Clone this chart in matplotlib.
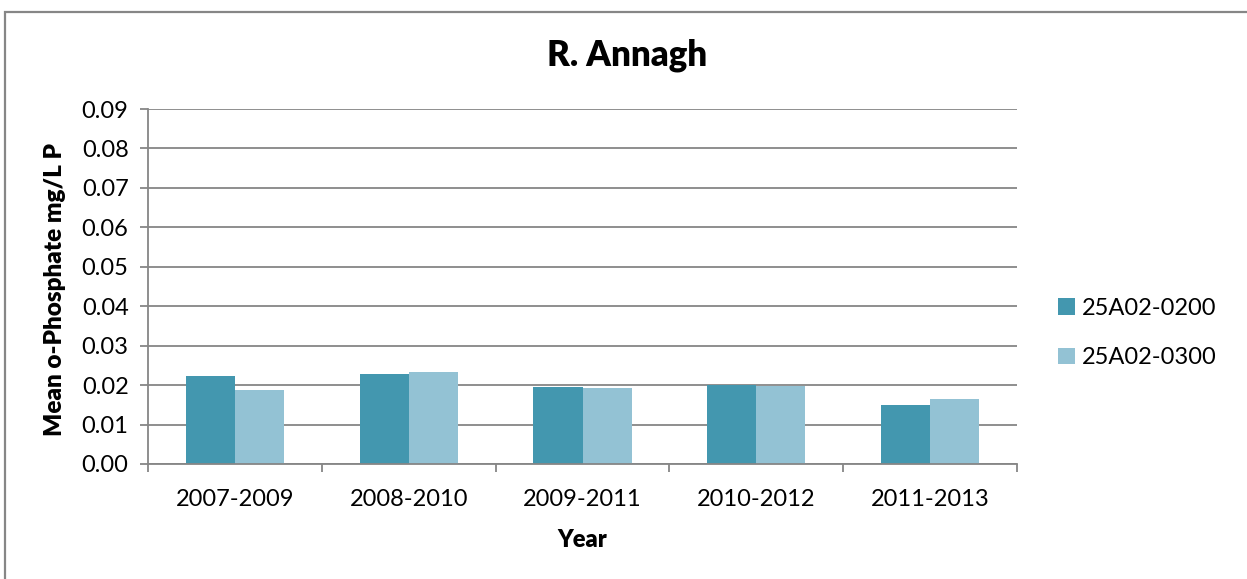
import matplotlib
matplotlib.use("Agg")
import matplotlib.pyplot as plt
import numpy as np
from matplotlib.patches import Rectangle

categories = ["2007-2009", "2008-2010", "2009-2011", "2010-2012", "2011-2013"]
series_names = ["25A02-0200", "25A02-0300"]
s0200 = [0.0224, 0.0229, 0.0196, 0.0200, 0.0150]
s0300 = [0.0187, 0.0232, 0.0192, 0.0199, 0.0164]
yticks = [0.00, 0.01, 0.02, 0.03, 0.04, 0.05, 0.06, 0.07, 0.08, 0.09]

colors = ["#4397AF", "#93C2D4"]
grid_c = "#868686"

plt.rcParams['font.family'] = ['Lato', 'DejaVu Sans']

W, H = 1247, 579
fig = plt.figure(figsize=(W / 100, H / 100), dpi=100)

# outer chart border (top and left visible)
fig.add_artist(Rectangle((4.5 / W, -0.1), 1.2, (579 - 11.5) / H + 0.1,
                         transform=fig.transFigure, fill=False,
                         edgecolor=grid_c, linewidth=1.6))

ax = fig.add_axes([148 / W, (579 - 464) / H, (1017 - 148) / W, (464 - 109) / H])

x = np.arange(len(categories))
bw = 0.282
ax.bar(x - bw / 2, s0200, width=bw, color=colors[0], label=series_names[0], zorder=3)
ax.bar(x + bw / 2, s0300, width=bw, color=colors[1], label=series_names[1], zorder=3)

ax.set_xlim(-0.5, len(categories) - 0.5)
ax.set_ylim(0, 0.09)
ax.set_yticks(yticks)
ax.set_yticklabels([f"{v:.2f}" for v in yticks], fontsize=17)
ax.set_xticks(x)
ax.set_xticklabels(categories, fontsize=17)
ax.tick_params(axis='x', length=0, pad=18)
ax.tick_params(axis='y', length=6, color=grid_c, width=1.3, pad=8)
# category boundary ticks
ax.set_xticks(np.arange(-0.5, len(categories), 1.0), minor=True)
ax.tick_params(axis='x', which='minor', length=6, color=grid_c, width=1.3)

ax.yaxis.grid(True, color=grid_c, linewidth=1.3, zorder=0)
ax.set_axisbelow(True)
for s in ['top', 'right']:
    ax.spines[s].set_visible(False)
for s in ['left', 'bottom']:
    ax.spines[s].set_color(grid_c)
    ax.spines[s].set_linewidth(1.3)
    ax.spines[s].set_zorder(4)

fig.text(627 / W, 1 - 55 / H, "R. Annagh", ha='center', va='center',
         fontsize=25, fontweight='heavy')
fig.text(582 / W, 1 - 540 / H, "Year", ha='center', va='center',
         fontsize=17, fontweight='heavy')
fig.text(55 / W, 1 - 290 / H, "Mean o-Phosphate mg/L P", ha='center', va='center',
         rotation=90, fontsize=17.5, fontweight='heavy')

leg = fig.legend(loc='center left', bbox_to_anchor=(1058 / W, 1 - 333 / H),
                 frameon=False, fontsize=17, handlelength=0.7, handleheight=0.7,
                 handletextpad=0.3, labelspacing=1.2, borderaxespad=0,
                 borderpad=0)

fig.savefig("out.png", dpi=100)
